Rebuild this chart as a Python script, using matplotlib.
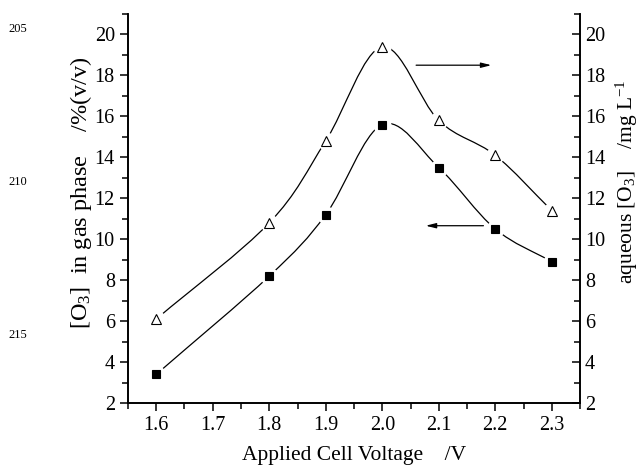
import numpy as np
import matplotlib
matplotlib.use("Agg")
import matplotlib.pyplot as plt
from matplotlib.path import Path
from matplotlib.patches import PathPatch
from matplotlib.ticker import MultipleLocator

# Date
voltage = [1.6, 1.8, 1.9, 2.0, 2.1, 2.2, 2.3]
gas_o3 = [3.4, 8.2, 11.2, 15.6, 13.5, 10.5, 8.9]        # axa stanga, patrate
aq_o3 = [6.1, 10.8, 14.8, 19.4, 15.8, 14.1, 11.4]       # axa dreapta, triunghiuri
line_numbers = ["205", "210", "215"]

plt.rcParams['font.family'] = ['Liberation Serif', 'DejaVu Serif']
plt.rcParams['mathtext.fontset'] = 'custom'
plt.rcParams['mathtext.rm'] = 'Liberation Serif'
plt.rcParams['mathtext.it'] = 'Liberation Serif:italic'


def spline_path(x, y):
    """Curba Catmull-Rom transformata in segmente Bezier"""
    p = np.column_stack([x, y]).astype(float)
    ext = np.vstack([2 * p[0] - p[1], p, 2 * p[-1] - p[-2]])
    verts = [p[0]]
    codes = [Path.MOVETO]
    for i in range(1, len(ext) - 2):
        p0, p1, p2, p3 = ext[i - 1], ext[i], ext[i + 1], ext[i + 2]
        verts += [p1 + (p2 - p0) / 6, p2 - (p3 - p1) / 6, p2]
        codes += [Path.CURVE4] * 3
    return Path(verts, codes)


fig = plt.figure(figsize=(6.39, 4.67), dpi=100)
ax = fig.add_axes([0.2003, 0.137, 0.7074, 0.833])
ax2 = ax.twinx()

for a, vals, mk, fc in [(ax, gas_o3, 's', 'black'), (ax2, aq_o3, '^', 'white')]:
    a.add_patch(PathPatch(spline_path(voltage, vals), fc='none', ec='black',
                          lw=0.9, zorder=2))
    a.plot(voltage, vals, 'o', ms=13, mfc='white', mec='none', zorder=3)
    a.plot(voltage, vals, mk, ms=7 if mk == '^' else 6.2, mfc=fc, mec='black',
           mew=0.8, zorder=4)

for a in (ax, ax2):
    a.set_xlim(1.55, 2.35)
    a.set_ylim(2, 21)
    a.yaxis.set_major_locator(MultipleLocator(2))
    a.yaxis.set_minor_locator(MultipleLocator(1))
    a.spines['top'].set_visible(False)
    for s in a.spines.values():
        s.set_linewidth(1.2)

ax.xaxis.set_major_locator(MultipleLocator(0.1))
ax.xaxis.set_minor_locator(MultipleLocator(0.05))
ax.set_xticks(voltage[:1] + [1.7] + voltage[1:])
ax.set_xticklabels(['%.1f' % v for v in ax.get_xticks()])
ax.tick_params(which='both', direction='out', labelsize=14.5, width=1.1)
ax.tick_params(which='major', length=6)
ax.tick_params(which='minor', length=4)
ax.tick_params(axis='x', pad=3)
ax2.tick_params(which='both', direction='in', labelsize=14.5, width=1.1)
ax2.tick_params(which='major', length=6)
ax2.tick_params(which='minor', length=4)

ax.set_xlabel('Applied Cell Voltage    /V', fontsize=15.5, labelpad=8)
ax.set_ylabel('[O$_3$]  in gas phase    /%(v/v)', fontsize=17.5,
              va='center', ha='center')
ax.yaxis.set_label_coords(-0.104, 0.54)
ax2.set_ylabel('aqueous [O$_3$]    /mg L$^{-1}$', fontsize=15.5,
               va='center', ha='center', rotation=90)
ax2.yaxis.set_label_coords(1.104, 0.568)

# Sagetile care indica axa fiecarei serii
arrow = dict(arrowstyle='-|>,head_length=0.6,head_width=0.15', color='black', lw=0.9)
ax2.annotate('', xy=(2.198, 18.5), xytext=(2.055, 18.5), arrowprops=arrow)
ax.annotate('', xy=(2.072, 10.66), xytext=(2.184, 10.66), arrowprops=arrow)

for txt, yy in zip(line_numbers, [29, 182, 335]):
    fig.text(18 / 639, 1 - yy / 467, txt, fontsize=9, ha='center', va='center')

fig.savefig('out.png', dpi=100)
